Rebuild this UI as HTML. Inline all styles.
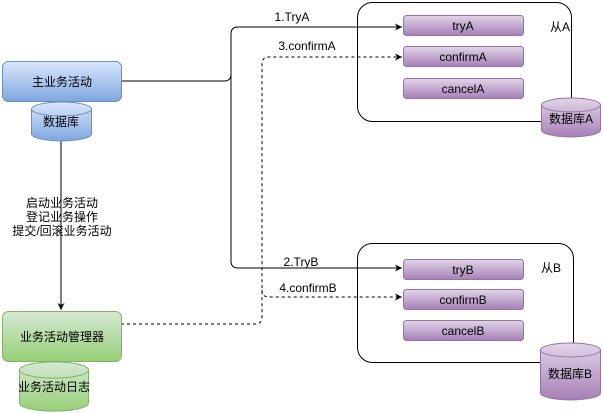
<!DOCTYPE html>
<html><head><meta charset="utf-8"><style>
html,body{margin:0;padding:0;background:#fff;width:603px;height:413px;overflow:hidden}
svg text{font-family:"Liberation Sans","Noto Sans CJK SC",sans-serif;font-size:12px;fill:#000}
</style></head><body>
<svg width="603" height="413" viewBox="0 0 603 413" xmlns="http://www.w3.org/2000/svg">
<defs>
<linearGradient id="gb" x1="0" y1="0" x2="0" y2="1"><stop offset="0" stop-color="#dae8fc"/><stop offset="1" stop-color="#7ea6e0"/></linearGradient>
<linearGradient id="gg" x1="0" y1="0" x2="0" y2="1"><stop offset="0" stop-color="#d5e8d4"/><stop offset="1" stop-color="#97d077"/></linearGradient>
<linearGradient id="gp" x1="0" y1="0" x2="0" y2="1"><stop offset="0" stop-color="#e1d5e7"/><stop offset="1" stop-color="#a680b8"/></linearGradient>
<marker id="ar" markerWidth="8" markerHeight="8" refX="7" refY="4" orient="auto" markerUnits="userSpaceOnUse"><path d="M0,0.5 L7,4 L0,7.5 L2,4Z" fill="#000"/></marker>
</defs>
<!-- containers -->
<rect x="357.5" y="2.5" width="214" height="119" rx="15" fill="none" stroke="#000"/>
<rect x="357.5" y="243.5" width="216" height="119" rx="15" fill="none" stroke="#000"/>
<!-- connectors -->
<path d="M121,81 H224 Q231,81 231,74 V34 Q231,27 238,27 H402" fill="none" stroke="#000" marker-end="url(#ar)"/>
<path d="M231,74 V261 Q231,268 238,268 H402" fill="none" stroke="#000" marker-end="url(#ar)"/>
<line x1="61" y1="141" x2="61" y2="310" stroke="#000" marker-end="url(#ar)"/>
<path d="M121,324 H255 Q262,324 262,317 V64 Q262,57 269,57 H402" fill="none" stroke="#000" stroke-dasharray="3,3" marker-end="url(#ar)"/>
<path d="M262,290 Q262,297 269,297 H402" fill="none" stroke="#000" stroke-dasharray="3,3" marker-end="url(#ar)"/>
<!-- labels -->
<text x="292" y="21" text-anchor="middle">1.TryA</text>
<text x="307" y="50" text-anchor="middle">3.confirmA</text>
<text x="301" y="266" text-anchor="middle">2.TryB</text>
<text x="308" y="292" text-anchor="middle">4.confirmB</text>
<text x="62" y="207" text-anchor="middle">启动业务活动</text>
<text x="62" y="221" text-anchor="middle">登记业务操作</text>
<text x="62" y="235" text-anchor="middle">提交/回滚业务活动</text>
<!-- main -->
<rect x="2.5" y="61.5" width="119" height="40" rx="6" fill="url(#gb)" stroke="#6c8ebf"/>
<text x="62" y="86" text-anchor="middle">主业务活动</text>
<path d="M31.5,109 A30,7 0 0 1 91.5,109 V134 A30,7 0 0 1 31.5,134 Z" fill="url(#gb)" stroke="#6c8ebf"/>
<path d="M31.5,109 A30,7 0 0 0 91.5,109" fill="none" stroke="#6c8ebf"/>
<text x="61" y="126" text-anchor="middle">数据库</text>
<!-- manager -->
<rect x="2.5" y="311.5" width="119" height="50" rx="6" fill="url(#gg)" stroke="#82b366"/>
<text x="62" y="341" text-anchor="middle">业务活动管理器</text>
<path d="M19.5,370 A34,8 0 0 1 88.5,370 V403 A34,8 0 0 1 19.5,403 Z" fill="url(#gg)" stroke="#82b366"/>
<path d="M19.5,370 A34,8 0 0 0 88.5,370" fill="none" stroke="#82b366"/>
<text x="54" y="391" text-anchor="middle">业务活动日志</text>
<!-- A -->
<rect x="403.5" y="15.5" width="120" height="20" rx="3" fill="url(#gp)" stroke="#9673a6"/>
<text x="463" y="30" text-anchor="middle">tryA</text>
<rect x="403.5" y="46.5" width="120" height="20" rx="3" fill="url(#gp)" stroke="#9673a6"/>
<text x="463" y="61" text-anchor="middle">confirmA</text>
<rect x="403.5" y="78.5" width="120" height="20" rx="3" fill="url(#gp)" stroke="#9673a6"/>
<text x="463" y="93" text-anchor="middle">cancelA</text>
<text x="550" y="31">从A</text>
<path d="M541.5,105 A29.5,7 0 0 1 600.5,105 V130 A29.5,7 0 0 1 541.5,130 Z" fill="url(#gp)" stroke="#9673a6"/>
<path d="M541.5,105 A29.5,7 0 0 0 600.5,105" fill="none" stroke="#9673a6"/>
<text x="571" y="123" text-anchor="middle">数据库A</text>
<!-- B -->
<rect x="403.5" y="259.5" width="120" height="20" rx="3" fill="url(#gp)" stroke="#9673a6"/>
<text x="463" y="274" text-anchor="middle">tryB</text>
<rect x="403.5" y="289.5" width="120" height="20" rx="3" fill="url(#gp)" stroke="#9673a6"/>
<text x="463" y="304" text-anchor="middle">confirmB</text>
<rect x="403.5" y="320.5" width="120" height="20" rx="3" fill="url(#gp)" stroke="#9673a6"/>
<text x="463" y="335" text-anchor="middle">cancelB</text>
<text x="541" y="272">从B</text>
<path d="M540.5,350 A30,7 0 0 1 600.5,350 V393 A30,7 0 0 1 540.5,393 Z" fill="url(#gp)" stroke="#9673a6"/>
<path d="M540.5,350 A30,7 0 0 0 600.5,350" fill="none" stroke="#9673a6"/>
<text x="570" y="378" text-anchor="middle">数据库B</text>
</svg>
</body></html>
